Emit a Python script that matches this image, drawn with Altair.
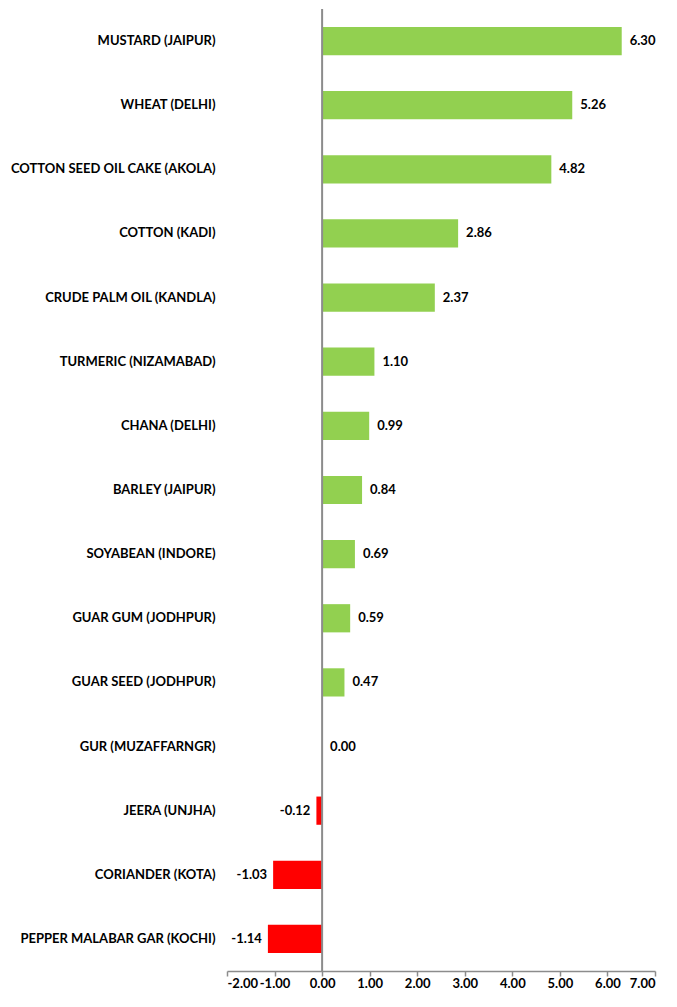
import altair as alt
import pandas as pd

categories = [
    "MUSTARD (JAIPUR)", "WHEAT (DELHI)", "COTTON SEED OIL CAKE (AKOLA)", "COTTON (KADI)",
    "CRUDE PALM OIL (KANDLA)", "TURMERIC (NIZAMABAD)", "CHANA (DELHI)", "BARLEY (JAIPUR)",
    "SOYABEAN (INDORE)", "GUAR GUM (JODHPUR)", "GUAR SEED (JODHPUR)", "GUR (MUZAFFARNGR)",
    "JEERA (UNJHA)", "CORIANDER (KOTA)", "PEPPER MALABAR GAR (KOCHI)",
]
values = [6.30, 5.26, 4.82, 2.86, 2.37, 1.10, 0.99, 0.84, 0.69, 0.59, 0.47, 0.00, -0.12, -1.03, -1.14]
x_ticks = [-2, -1, 0, 1, 2, 3, 4, 5, 6, 7]

df = pd.DataFrame({
    "cat": categories,
    "val": values,
    "label": [f"{v:.2f}" for v in values],
    "sign": ["neg" if v < 0 else "pos" for v in values],
})

FONT = "Lato"
FS = 13
x_scale = alt.Scale(domain=[-2, 7], nice=False, zero=False)
y_enc = alt.Y("cat:N", sort=categories, title=None,
              scale=alt.Scale(paddingInner=0.56, paddingOuter=0.28),
              axis=alt.Axis(domain=False, ticks=False, labelPadding=12,
                            labelFont=FONT, labelFontSize=FS, labelFontWeight="bold",
                            labelColor="#000000", labelLimit=400))

bars = alt.Chart(df).mark_bar().encode(
    x=alt.X("val:Q", scale=x_scale, title=None,
            axis=alt.Axis(values=x_ticks, grid=False, domainColor="#8c8c8c", domainWidth=1.5,
                          tickColor="#8c8c8c", tickWidth=1.5, tickSize=5,
                          labelExpr="replace(format(datum.value, '.2f'), '\u2212', '-')",
                          labelFont=FONT, labelFontSize=13, labelFontWeight="bold",
                          labelColor="#000000", labelPadding=1)),
    y=y_enc,
    color=alt.Color("sign:N", scale=alt.Scale(domain=["pos", "neg"], range=["#92D050", "#FF0000"]),
                    legend=None),
)

pos_text = alt.Chart(df).transform_filter("datum.val >= 0").mark_text(
    align="left", baseline="middle", dx=8, font=FONT, fontSize=FS, fontWeight="bold", color="#000000"
).encode(x=alt.X("val:Q", scale=x_scale), y=alt.Y("cat:N", sort=categories), text="label:N")

neg_text = alt.Chart(df).transform_filter("datum.val < 0").mark_text(
    align="right", baseline="middle", dx=-6, font=FONT, fontSize=FS, fontWeight="bold", color="#000000"
).encode(x=alt.X("val:Q", scale=x_scale), y=alt.Y("cat:N", sort=categories), text="label:N")

zero_rule = alt.Chart(pd.DataFrame({"z": [0]})).mark_rule(color="#8c8c8c", strokeWidth=2).encode(
    x=alt.X("z:Q", scale=x_scale)
)

chart = alt.layer(bars, zero_rule, pos_text, neg_text).properties(
    width=428, height=962,
    autosize=alt.AutoSizeParams(type="none"),
    padding={"left": 219, "top": 1, "right": 14, "bottom": 22},
).configure_view(stroke=None)

chart.save("out.html", embed_options={"renderer": "svg", "actions": False})
